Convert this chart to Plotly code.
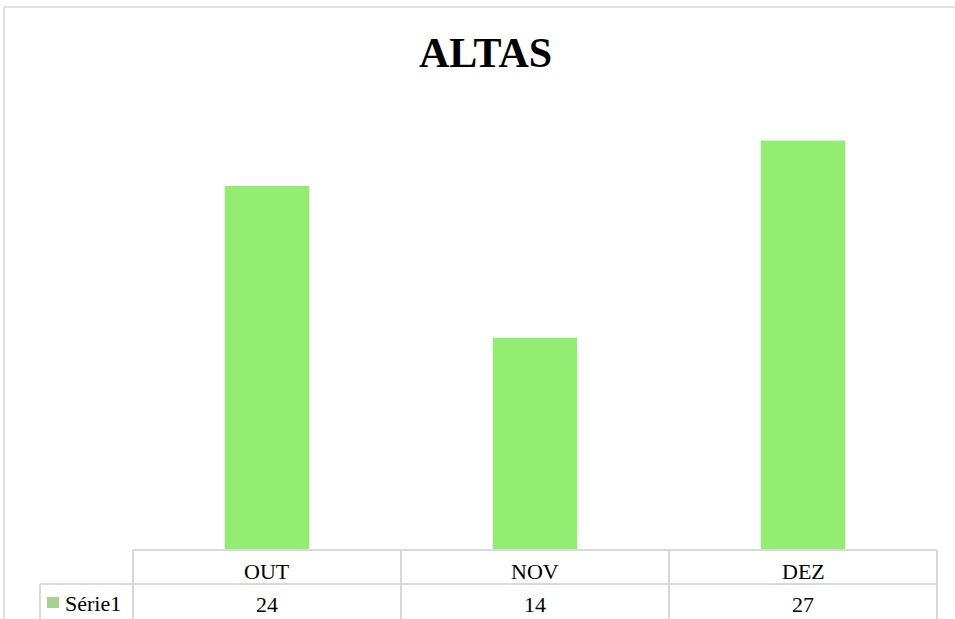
import plotly.graph_objects as go

months = ["OUT", "NOV", "DEZ"]
altas = [24, 14, 27]
series_name = "Série1"

W, H = 955, 619
L, R, T, B = 133, 18, 95, 69
PH = H - T - B
PW = W - L - R


def py(y_px):
    # pixel row -> paper y
    return (H - B - y_px) / PH


def px_(x_px):
    return (x_px - L) / PW


GRID = "#d9d9d9"
FONT = "Liberation Serif, Times New Roman, serif"

fig = go.Figure(
    go.Bar(x=months, y=altas, marker=dict(color="#94ed73", line=dict(width=0)), width=0.315, name=series_name)
)

shapes = []
# outer chart border
shapes.append(dict(type="rect", xref="paper", yref="paper", x0=px_(4), y0=py(640), x1=px_(990), y1=py(7),
                   line=dict(color=GRID, width=1.5)))
# data table grid
shapes.append(dict(type="line", xref="paper", yref="paper", x0=0, x1=1, y0=0, y1=0, line=dict(color=GRID, width=2)))
shapes.append(dict(type="line", xref="paper", yref="paper", x0=px_(40), x1=1, y0=py(584), y1=py(584),
                   line=dict(color=GRID, width=2)))
shapes.append(dict(type="line", xref="paper", yref="paper", x0=0, x1=0, y0=0, y1=py(640), line=dict(color=GRID, width=2)))
shapes.append(dict(type="line", xref="paper", yref="paper", x0=1, x1=1, y0=0, y1=py(640), line=dict(color=GRID, width=2)))
shapes.append(dict(type="line", xref="paper", yref="paper", x0=px_(40), x1=px_(40), y0=py(584), y1=py(640),
                   line=dict(color=GRID, width=2)))
for i in range(len(months) - 1):
    shapes.append(dict(type="line", xref="x", yref="paper", x0=i + 0.5, x1=i + 0.5, y0=0, y1=py(640),
                       line=dict(color=GRID, width=2)))
# legend key swatch
shapes.append(dict(type="rect", xref="paper", yref="paper", x0=px_(47), x1=px_(59), y0=py(608), y1=py(597),
                   fillcolor="#a9d18e", line=dict(width=0)))

annotations = [
    dict(text="<b>ALTAS</b>", xref="paper", yref="paper", x=px_(485), y=py(53), showarrow=False,
         font=dict(family=FONT, size=42, color="black"), xanchor="center", yanchor="middle"),
    dict(text=series_name, xref="paper", yref="paper", x=px_(63), y=py(603), showarrow=False,
         font=dict(family=FONT, size=22, color="black"), xanchor="left", yanchor="middle"),
]
for m, v in zip(months, altas):
    annotations.append(dict(text=m, xref="x", yref="paper", x=m, y=py(571), showarrow=False,
                            font=dict(family=FONT, size=22, color="black"), yanchor="middle"))
    annotations.append(dict(text=str(v), xref="x", yref="paper", x=m, y=py(604), showarrow=False,
                            font=dict(family=FONT, size=22, color="black"), yanchor="middle"))

fig.update_layout(
    width=W, height=H,
    margin=dict(l=L, r=R, t=T, b=B),
    paper_bgcolor="white", plot_bgcolor="white",
    showlegend=False,
    shapes=shapes,
    annotations=annotations,
    xaxis=dict(showticklabels=False, showgrid=False, zeroline=False, showline=False, ticks="",
               range=[-0.5, 2.5]),
    yaxis=dict(visible=False, range=[0, 30]),
    font=dict(family=FONT),
)

fig.write_html("out.html", config={"displayModeBar": False},
               post_script="document.body.style.margin='0';document.body.style.overflow='hidden';")
